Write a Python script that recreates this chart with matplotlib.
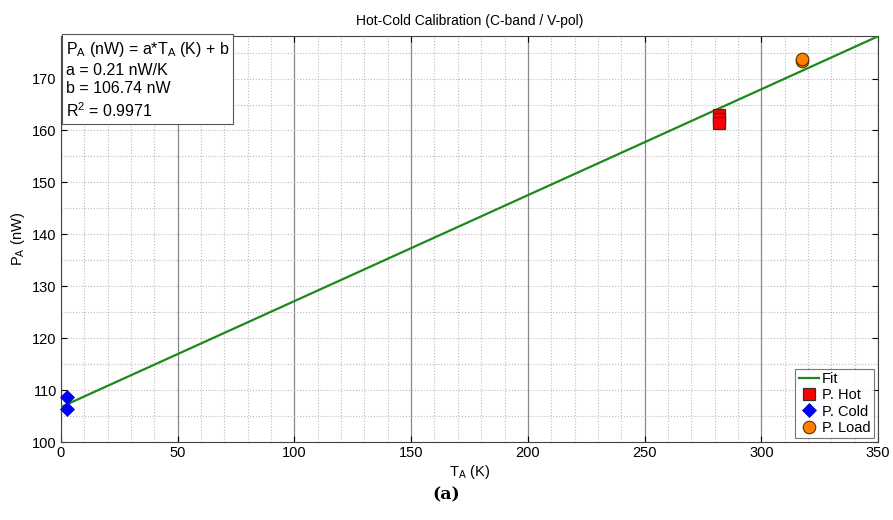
import matplotlib.pyplot as plt
import numpy as np
from matplotlib.ticker import MultipleLocator

plt.rcParams['font.family'] = ['Liberation Sans', 'DejaVu Sans']

# fit parameters
a = 0.204
b = 106.74
fit_x = [0, 350]

# measured points
hot_T = [282, 282, 282]
hot_P = [162.9, 162.2, 161.5]
cold_T = [2.7, 2.7]
cold_P = [108.7, 106.4]
load_T = [317.5, 317.5]
load_P = [173.4, 173.8]

fig = plt.figure(figsize=(8.93, 5.20), dpi=100)
ax = fig.add_axes([61/893, 1-442/520, 817/893, 406/520])

fx = np.array(fit_x)
ax.plot(fx, a*fx + b, color='#1a8a1a', lw=1.6, label='Fit', zorder=3)
ax.plot(hot_T, hot_P, 's', ms=8, mfc='red', mec='#333333', mew=0.9, label='P. Hot', zorder=4)
ax.plot(cold_T, cold_P, 'D', ms=7.5, mfc='blue', mec='#0000aa', mew=0.5, label='P. Cold', zorder=4, clip_on=False)
ax.plot(load_T, load_P, 'o', ms=9, mfc='#ff8000', mec='#553300', mew=0.8, label='P. Load', zorder=4)

ax.set_xlim(0, 350)
ax.set_ylim(100, 178.2)
ax.xaxis.set_major_locator(MultipleLocator(50))
ax.yaxis.set_major_locator(MultipleLocator(10))
ax.xaxis.set_minor_locator(MultipleLocator(10))
ax.yaxis.set_minor_locator(MultipleLocator(5))
ax.grid(which='major', axis='x', color='#888888', lw=0.9, ls='-')
ax.grid(which='major', axis='y', color='#bbbbbb', lw=0.8, ls=':')
ax.grid(which='minor', color='#bbbbbb', lw=0.8, ls=':')
ax.tick_params(which='both', direction='in', labelsize=10.5, top=True, right=True, length=4, pad=3)
ax.tick_params(which='minor', length=0)
for s in ax.spines.values():
    s.set_color('#444444')
    s.set_linewidth(0.8)

ax.set_title('Hot-Cold Calibration (C-band / V-pol)', fontsize=10, pad=8)
ax.set_xlabel('T$_\\mathregular{A}$ (K)', fontsize=10.5, labelpad=2)
ax.set_ylabel('P$_\\mathregular{A}$ (nW)', fontsize=10.5, labelpad=4)

txt = ('P$_\\mathregular{A}$ (nW) = a*T$_\\mathregular{A}$ (K) + b\n'
       'a = 0.21 nW/K\nb = 106.74 nW\nR$^\\mathregular{2}$ = 0.9971')
ax.text(0.006, 0.99, txt, transform=ax.transAxes, va='top', ha='left', fontsize=11.5,
        linespacing=1.3,
        bbox=dict(boxstyle='square,pad=0.25', fc='white', ec='#555555', lw=0.8))

leg = ax.legend(loc='lower right', fontsize=10.5, frameon=True, fancybox=False,
                handlelength=1.4, handletextpad=0.2, borderpad=0.25, labelspacing=0.15,
                borderaxespad=0.25)
leg.get_frame().set_edgecolor('#555555')
leg.get_frame().set_linewidth(0.8)

fig.text(0.5, 1-495/520, '(a)', ha='center', va='center', fontsize=12.5,
         fontweight='bold', family='DejaVu Serif')

fig.savefig('out.png', dpi=100)
